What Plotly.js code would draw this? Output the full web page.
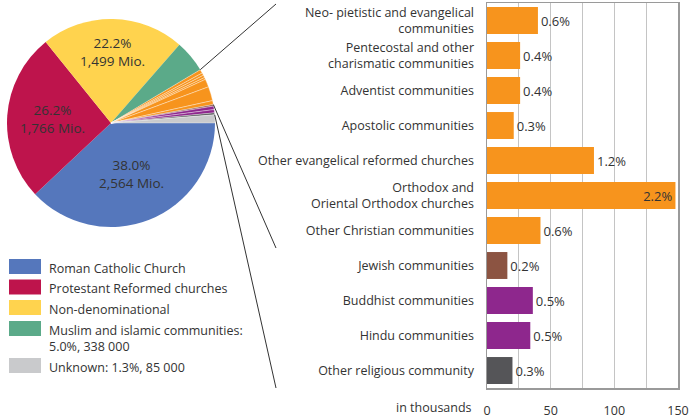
<!DOCTYPE html>
<html>
<head>
<meta charset="utf-8">
<script src="https://cdn.plot.ly/plotly-3.0.1.min.js"></script>
<style>
  html, body { margin: 0; padding: 0; background: #fff; }
  #chart { width: 690px; height: 418px; }
</style>
</head>
<body>
<div id="chart"></div>
<script>
// ---------- DATA ----------
// Bar chart (values in thousands)
const barCategories = [
  "Neo- pietistic and evangelical<br>communities",
  "Pentecostal and other<br>charismatic communities",
  "Adventist communities",
  "Apostolic communities",
  "Other evangelical reformed churches",
  "Orthodox and<br>Oriental Orthodox churches",
  "Other Christian communities",
  "Jewish communities",
  "Buddhist communities",
  "Hindu communities",
  "Other religious community"
];
const barValues = [40, 26, 26, 21, 84, 148, 42, 16, 36, 34, 20];
const barPctLabels = ["0.6%", "0.4%", "0.4%", "0.3%", "1.2%", "2.2%", "0.6%", "0.2%", "0.5%", "0.5%", "0.3%"];
const barColors = ["#F7941D", "#F7941D", "#F7941D", "#F7941D", "#F7941D", "#F7941D", "#F7941D",
                   "#8C5442", "#8E278D", "#8E278D", "#555558"];
const barTextPos = ["outside", "outside", "outside", "outside", "outside", "inside", "outside",
                    "outside", "outside", "outside", "outside"];

// Pie chart (values in thousands)
const mainLabels = ["Roman Catholic Church", "Protestant Reformed churches", "Non-denominational", "Muslim and islamic communities"];
const mainValues = [2564, 1766, 1499, 338];
const mainColors = ["#5577BC", "#BE144C", "#FFD34E", "#5BAA89"];
const mainText = ["38.0%<br>2,564 Mio.", "26.2%<br>1,766 Mio.", "22.2%<br>1,499 Mio.", ""];
const unknownLabel = "Unknown";
const unknownValue = 85;
const unknownColor = "#C9CACC";
const christianCount = 7; // first 7 bar categories are Christian (orange)

// Legend
const legendLabels = ["Roman Catholic Church", "Protestant Reformed churches", "Non-denominational",
                      "Muslim and islamic communities:<br>5.0%, 338 000", "Unknown: 1.3%, 85 000"];
const legendColors = ["#5577BC", "#BE144C", "#FFD34E", "#5BAA89", "#C9CACC"];

// ---------- BUILD ----------
const W = 690, H = 418;
const FONT = "Open Sans, sans-serif";
const TXT = "#333333";
const px = x => x / W;
const py = y => 1 - y / H;

const pieLabels = mainLabels.concat(barCategories.map(c => c.replace("<br>", " ")), [unknownLabel]);
const pieValues = mainValues.concat(barValues, [unknownValue]);
const pieColors = mainColors.concat(barColors, [unknownColor]);
const pieLineW = pieValues.map((v, i) => i < mainValues.length ? 0 : 0.6);

// pie geometry (pixels)
const pcx = 111, pcy = 123, pr = 104;

const pie = {
  type: "pie",
  values: pieValues,
  labels: pieLabels,
  textinfo: "none",
  marker: { colors: pieColors, line: { color: "rgba(255,255,255,0.6)", width: pieLineW } },
  sort: false,
  direction: "clockwise",
  rotation: 90,
  domain: { x: [px(pcx - pr), px(pcx + pr)], y: [py(pcy + pr), py(pcy - pr)] },
  hoverinfo: "none",
  showlegend: false
};

const bar = {
  type: "bar",
  orientation: "h",
  y: barCategories,
  x: barValues,
  marker: { color: barColors },
  width: 0.77,
  text: barPctLabels,
  textposition: barTextPos,
  insidetextanchor: "end",
  textfont: { family: FONT, size: 13, color: TXT },
  insidetextfont: { family: FONT, size: 13, color: TXT },
  outsidetextfont: { family: FONT, size: 13, color: TXT },
  constraintext: "none",
  cliponaxis: false,
  hoverinfo: "none",
  showlegend: false,
  xaxis: "x",
  yaxis: "y"
};

// pie angles: clockwise from 3 o'clock (screen coordinates)
const total = pieValues.reduce((a, b) => a + b, 0);
const cum = [];
let acc = 0;
pieValues.forEach(v => { acc += v; cum.push(acc); });
function piePoint(frac, rf) {
  const a = frac * 2 * Math.PI;
  return [pcx + rf * pr * Math.cos(a), pcy + rf * pr * Math.sin(a)];
}

const shapes = [];
const annotations = [];

// labels inside the big pie slices
const labelRadius = [0.53, 0.56, 0.68, 0];
mainText.forEach((t, i) => {
  if (!t) return;
  const midFrac = (cum[i] - pieValues[i] / 2) / total;
  const p = piePoint(midFrac, labelRadius[i]);
  annotations.push({
    xref: "paper", yref: "paper", x: px(p[0]), y: py(p[1]),
    xanchor: "center", yanchor: "middle", align: "center", showarrow: false,
    text: t, font: { family: FONT, size: 13.5, color: TXT }
  });
});

// connector lines from pie to bar region
const nMain = mainValues.length;
const fracs = [
  cum[nMain - 1] / total,
  cum[nMain - 1 + christianCount] / total,
  cum[nMain - 1 + barValues.length] / total
];
const boundaryIdx = [0, christianCount, barValues.length]; // category boundaries on bar axis
const bx0 = 487, bx1 = 678, by0 = 3, by1 = 388;
const lineX = 276;
fracs.forEach((f, i) => {
  const p = piePoint(f, 1);
  const yPix = by0 + (boundaryIdx[i] / barCategories.length) * (by1 - by0);
  shapes.push({
    type: "line", xref: "paper", yref: "paper",
    x0: px(p[0]), y0: py(p[1]), x1: px(lineX), y1: py(Math.max(yPix, 4)),
    line: { color: "#333333", width: 1 }
  });
});

// legend
const legendTops = [259, 279.5, 300, 321, 358];
legendLabels.forEach((lab, i) => {
  shapes.push({
    type: "rect", xref: "paper", yref: "paper",
    x0: px(9), x1: px(41), y0: py(legendTops[i] + 15), y1: py(legendTops[i]),
    fillcolor: legendColors[i], line: { width: 0 }
  });
  annotations.push({
    xref: "paper", yref: "paper", x: px(47), y: py(legendTops[i] - 1.5),
    xanchor: "left", yanchor: "top", align: "left", showarrow: false,
    text: lab, font: { family: FONT, size: 12.5, color: TXT }
  });
});
annotations.push({
  xref: "paper", yref: "paper", x: px(474), y: py(407),
  xanchor: "right", yanchor: "middle", showarrow: false,
  text: "in thousands", font: { family: FONT, size: 12.5, color: TXT }
});

const layout = {
  width: W, height: H,
  margin: { l: 0, r: 0, t: 0, b: 0, pad: 0 },
  paper_bgcolor: "#ffffff",
  plot_bgcolor: "#ffffff",
  font: { family: FONT, size: 12.5, color: TXT },
  showlegend: false,
  xaxis: {
    domain: [px(bx0), px(bx1)],
    range: [0, 150],
    dtick: 50, tick0: 0,
    showgrid: true, gridcolor: "#c4c4c4", gridwidth: 1,
    minor: { dtick: 25, showgrid: true, gridcolor: "#c4c4c4", gridwidth: 1 },
    zeroline: false,
    showline: true, linecolor: "#9a9a9a", linewidth: 1.5, mirror: true,
    ticks: "", ticklabelstandoff: 10,
    tickfont: { size: 12.5, color: TXT },
    automargin: false, fixedrange: true, anchor: "y"
  },
  yaxis: {
    domain: [py(by1), py(by0)],
    range: [barCategories.length - 0.5, -0.5],
    type: "category",
    showgrid: false, zeroline: false,
    showline: true, linecolor: "#9a9a9a", linewidth: 1.5, mirror: true,
    ticks: "", ticklabelstandoff: 9,
    tickfont: { size: 12.5, color: TXT },
    automargin: false, fixedrange: true, anchor: "x"
  },
  shapes: shapes,
  annotations: annotations
};

Plotly.newPlot("chart", [pie, bar], layout, { staticPlot: true, displayModeBar: false });
</script>
</body>
</html>
